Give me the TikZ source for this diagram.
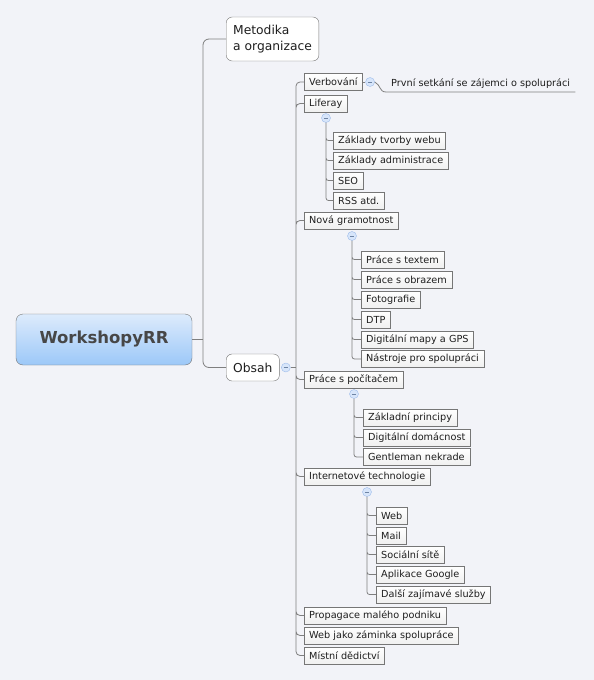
\documentclass[tikz,border=0pt]{standalone}
\usepackage{fontspec}
\setmainfont{DejaVu Sans}
\usetikzlibrary{positioning}
\definecolor{PaperBg}{HTML}{F2F3F8}
\definecolor{LinkGray}{HTML}{7F7F7F}
\definecolor{BoxLine}{HTML}{767676}
\definecolor{RootTop}{HTML}{DDEBFC}
\definecolor{RootBot}{HTML}{9CC8F8}
\definecolor{RootText}{HTML}{474747}
\definecolor{FoldFill}{HTML}{D7E5FA}
\definecolor{FoldLine}{HTML}{9DBCEB}
\definecolor{TextDark}{HTML}{1E1E1E}

\begin{document}
\begin{tikzpicture}[x=1pt,y=-1pt,
  link/.style={LinkGray, line width=0.8pt},
  rootbox/.style={draw=BoxLine, rounded corners=7pt, top color=RootTop,
    bottom color=RootBot, minimum width=176pt, minimum height=51pt,
    font=\fontsize{16.5}{20}\selectfont\bfseries, text=RootText},
  mainbox/.style={draw=BoxLine, fill=white, rounded corners=6pt, align=left,
    inner xsep=7pt, inner ysep=8pt, minimum height=27pt, text=TextDark,
    font=\fontsize{12.3}{16}\selectfont, anchor=west},
  subbox/.style={draw=BoxLine, top color=white, bottom color=gray!12,
    inner xsep=5pt, inner ysep=0pt, minimum height=17pt, text=TextDark,
    font=\fontsize{9.7}{11}\selectfont, anchor=west},
  fold/.style={circle, draw=FoldLine, fill=FoldFill, inner sep=0pt,
    minimum size=9pt, path picture={\draw[FoldLine!70!black, line width=0.6pt]
      ([xshift=-2.2pt]path picture bounding box.center) --
      ([xshift=2.2pt]path picture bounding box.center);}}]
  \fill[PaperBg] (0,0) rectangle (594,680);
  % root and main topics
  \node[rootbox] (root) at (104,339.5) {WorkshopyRR};
  \node[mainbox] (meta) at (226,39) {Metodika\\a organizace};
  \node[mainbox] (obsah) at (226,367.5) {Obsah};
  \coordinate (rootJ) at (203,339.5);
  \draw[link] (root.east) -- (rootJ);
  \draw[link, rounded corners=6pt] (rootJ) |- (meta.west) (rootJ) |- (obsah.west);

  % Obsah
  \node[fold, right=1.5pt of obsah] (obsahF) {};
  \coordinate (obsahJ) at (296,367.5);
  \draw[link] (obsahF.east) -- (obsahJ);
  \node[subbox] (verb) at (304,82) {Verbování};
  \node[subbox] (lif) at (304,103.5) {Liferay};
  \node[subbox] (nova) at (304,220.5) {Nová gramotnost};
  \node[subbox] (prac) at (304,379.5) {Práce s počítačem};
  \node[subbox] (inet) at (304,476.5) {Internetové technologie};
  \node[subbox] (prop) at (304,615.5) {Propagace malého podniku};
  \node[subbox] (webz) at (304,635.5) {Web jako záminka spolupráce};
  \node[subbox] (mist) at (304,655.5) {Místní dědictví};
  \draw[link, rounded corners=4pt] (obsahJ) |- (verb.west) (obsahJ) |- (lif.west)
    (obsahJ) |- (nova.west) (obsahJ) |- (prac.west) (obsahJ) |- (inet.west)
    (obsahJ) |- (prop.west) (obsahJ) |- (webz.west) (obsahJ) |- (mist.west);

  % Verbovani
  \node[fold, right=2.5pt of verb] (verbF) {};
  \draw[link] (verb.east) -- (verbF.west);
  \node[anchor=south west, inner xsep=5pt, inner ysep=3pt, text=TextDark,
    font=\fontsize{9.7}{11}\selectfont] (prvni) at (386,92)
    {První setkání se zájemci o spolupráci};
  \draw[link] (verbF.east) .. controls (381,85) and (379,92) .. (prvni.south west)
    -- (prvni.south east);

  % Liferay
  \node[fold] (lifF) at (326,118) {};
  \node[subbox] (lif1) at (333,140.5) {Základy tvorby webu};
  \node[subbox] (lif2) at (333,160.5) {Základy administrace};
  \node[subbox] (lif3) at (333,180.5) {SEO};
  \node[subbox] (lif4) at (333,200.5) {RSS atd.};
  \draw[link, rounded corners=2.5pt] (lifF.south) |- (lif1.west) (lifF.south) |- (lif2.west)
    (lifF.south) |- (lif3.west) (lifF.south) |- (lif4.west);

  % Nova gramotnost
  \node[fold] (novaF) at (352,236) {};
  \node[subbox] (nova1) at (361,259.5) {Práce s textem};
  \node[subbox] (nova2) at (361,279.5) {Práce s obrazem};
  \node[subbox] (nova3) at (361,299.5) {Fotografie};
  \node[subbox] (nova4) at (361,319.5) {DTP};
  \node[subbox] (nova5) at (361,339.5) {Digitální mapy a GPS};
  \node[subbox] (nova6) at (361,359) {Nástroje pro spolupráci};
  \draw[link, rounded corners=2.5pt] (novaF.south) |- (nova1.west) (novaF.south) |- (nova2.west)
    (novaF.south) |- (nova3.west) (novaF.south) |- (nova4.west)
    (novaF.south) |- (nova5.west) (novaF.south) |- (nova6.west);

  % Prace s pocitacem
  \node[fold] (pracF) at (354,394) {};
  \node[subbox] (prac1) at (363,417.5) {Základní principy};
  \node[subbox] (prac2) at (363,437.5) {Digitální domácnost};
  \node[subbox] (prac3) at (363,457) {Gentleman nekrade};
  \draw[link, rounded corners=2.5pt] (pracF.south) |- (prac1.west) (pracF.south) |- (prac2.west)
    (pracF.south) |- (prac3.west);

  % Internetove technologie
  \node[fold] (inetF) at (367,492) {};
  \node[subbox] (inet1) at (376,515.5) {Web};
  \node[subbox] (inet2) at (376,535.5) {Mail};
  \node[subbox] (inet3) at (376,554.5) {Sociální sítě};
  \node[subbox] (inet4) at (376,574.5) {Aplikace Google};
  \node[subbox] (inet5) at (376,594.5) {Další zajímavé služby};
  \draw[link, rounded corners=2.5pt] (inetF.south) |- (inet1.west) (inetF.south) |- (inet2.west)
    (inetF.south) |- (inet3.west) (inetF.south) |- (inet4.west) (inetF.south) |- (inet5.west);
\end{tikzpicture}
\end{document}
